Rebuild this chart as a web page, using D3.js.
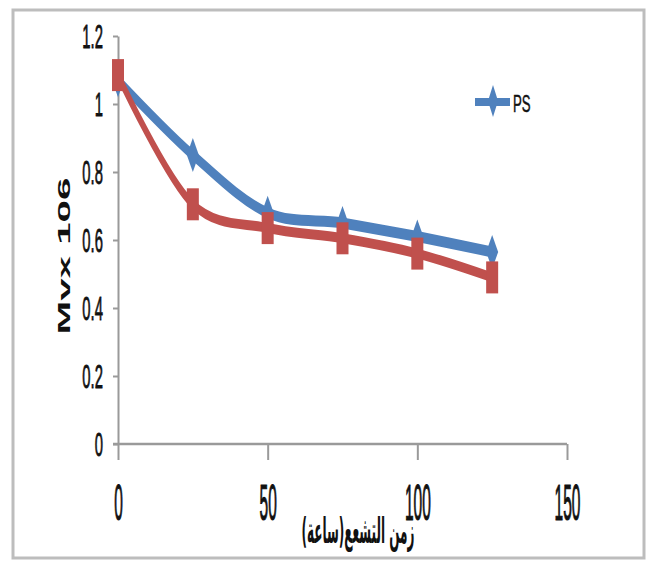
<!DOCTYPE html>
<html>
<head>
<meta charset="utf-8">
<script src="https://cdn.jsdelivr.net/npm/d3@7"></script>
<style>
  html, body { margin: 0; padding: 0; background: #fff; }
  svg { display: block; }
</style>
</head>
<body>
<svg id="chart" width="651" height="565"></svg>
<script>
// Irradiation time (hours)
const hours = [0, 25, 50, 75, 100, 125];
// PS series (blue, diamond markers)
const psValues = [1.07, 0.85, 0.68, 0.65, 0.61, 0.565];
// Second series (red, square markers)
const redValues = [1.085, 0.705, 0.635, 0.605, 0.56, 0.49];
const xTicks = [0, 50, 100, 150];
const yTicks = [0, 0.2, 0.4, 0.6, 0.8, 1, 1.2];
const legendLabel = "PS";
const xTitle = "زمن التشعع(ساعة)";
const yTitle = "Mvx 106";

const svg = d3.select("#chart");
const BLUE = "#4f81bd", RED = "#c0504d", AXIS = "#9a9a9a", INK = "#111";

// outer frame
svg.append("rect")
  .attr("x", 13).attr("y", 10).attr("width", 631).attr("height", 548)
  .attr("fill", "#fff").attr("stroke", "#bdbdbd").attr("stroke-width", 3);

const x = d3.scaleLinear().domain([0, 150]).range([118, 567]);
const y = d3.scaleLinear().domain([0, 1.2]).range([444, 36]);

// y axis
const gy = svg.append("g").attr("transform", `translate(${x(0)},0)`)
  .call(d3.axisLeft(y).tickValues(yTicks).tickSize(5).tickSizeOuter(0)
    .tickFormat(d => d3.format("~g")(d)));
gy.select(".domain").attr("stroke", AXIS).attr("stroke-width", 2);
gy.selectAll(".tick line").attr("stroke", AXIS).attr("stroke-width", 2);
gy.selectAll(".tick text")
  .attr("x", -15 / 0.45).attr("dy", "0.36em")
  .attr("transform", "scale(0.45,1)")
  .attr("font-family", "Liberation Sans, Arial, sans-serif")
  .attr("font-size", 33).attr("fill", INK)
  .attr("stroke", INK).attr("stroke-width", 0.8);

// x axis
const gx = svg.append("g").attr("transform", `translate(0,${y(0)})`)
  .call(d3.axisBottom(x).tickValues(xTicks).tickSize(16).tickSizeOuter(0));
gx.select(".domain").attr("stroke", AXIS).attr("stroke-width", 2.5)
  .attr("d", `M${x(0) - 5},0H${x(150)}`);
gx.selectAll(".tick line").attr("stroke", AXIS).attr("stroke-width", 2);
gx.selectAll(".tick text")
  .attr("y", 76).attr("dy", 0)
  .attr("transform", "scale(0.31,1)")
  .attr("font-family", "Liberation Sans, Arial, sans-serif")
  .attr("font-size", 50).attr("fill", INK)
  .attr("stroke", INK).attr("stroke-width", 1.2);

// series lines, drawn in a horizontally squeezed frame so strokes are taller than wide
const SQ = 0.4;
const xs = d3.scaleLinear().domain(x.domain()).range(x.range().map(v => v / SQ));
const lineGen = d3.line()
  .x((d, i) => xs(hours[i])).y(d => y(d))
  .curve(d3.curveCatmullRom.alpha(0.5));
const lines = svg.append("g").attr("transform", `scale(${SQ},1)`);
lines.append("path").datum(psValues)
  .attr("d", lineGen).attr("fill", "none")
  .attr("stroke", BLUE).attr("stroke-width", 11).attr("stroke-linejoin", "round");

const diamond = "M0,-17L6,0L0,17L-6,0Z";
svg.append("g").selectAll("path").data(psValues).join("path")
  .attr("transform", (d, i) => `translate(${x(hours[i])},${y(d)})`)
  .attr("d", diamond).attr("fill", BLUE);

const redLines = svg.append("g").attr("transform", `scale(${SQ},1)`);
redLines.append("path").datum(redValues)
  .attr("d", lineGen).attr("fill", "none")
  .attr("stroke", RED).attr("stroke-width", 10).attr("stroke-linejoin", "round");

svg.append("g").selectAll("rect").data(redValues).join("rect")
  .attr("x", (d, i) => x(hours[i]) - 6).attr("y", d => y(d) - 16)
  .attr("width", 12).attr("height", 32).attr("fill", RED);

// legend
const lg = svg.append("g");
lg.append("line").attr("x1", 475).attr("x2", 510).attr("y1", 102).attr("y2", 102)
  .attr("stroke", BLUE).attr("stroke-width", 8);
lg.append("path").attr("transform", "translate(493,101)").attr("d", "M0,-16L5,0L0,16L-5,0Z").attr("fill", BLUE);
lg.append("text").attr("transform", "translate(513,112) scale(0.55,1)")
  .attr("font-family", "Liberation Sans, Arial, sans-serif").attr("font-size", 24)
  .attr("fill", INK).attr("stroke", INK).attr("stroke-width", 0.5).text(legendLabel);

// axis titles, stretched to their drawn extent
function fitText(sel, width) {
  const w = sel.node().getComputedTextLength();
  return width / w;
}
const xt = svg.append("text")
  .attr("font-family", "DejaVu Sans, sans-serif").attr("font-weight", "bold")
  .attr("font-size", 36).attr("direction", "rtl").attr("text-anchor", "middle")
  .attr("fill", INK).text(xTitle);
const sx = fitText(xt, 113);
xt.attr("transform", `translate(358,543) scale(${sx},1)`);

const yt = svg.append("text")
  .attr("font-family", "Liberation Sans, Arial, sans-serif").attr("font-weight", "bold")
  .attr("font-size", 17).attr("text-anchor", "middle").attr("fill", INK).text(yTitle);
const sy = fitText(yt, 157);
yt.attr("transform", `translate(70,256) rotate(-90) scale(${sy},1)`);
</script>
</body>
</html>
